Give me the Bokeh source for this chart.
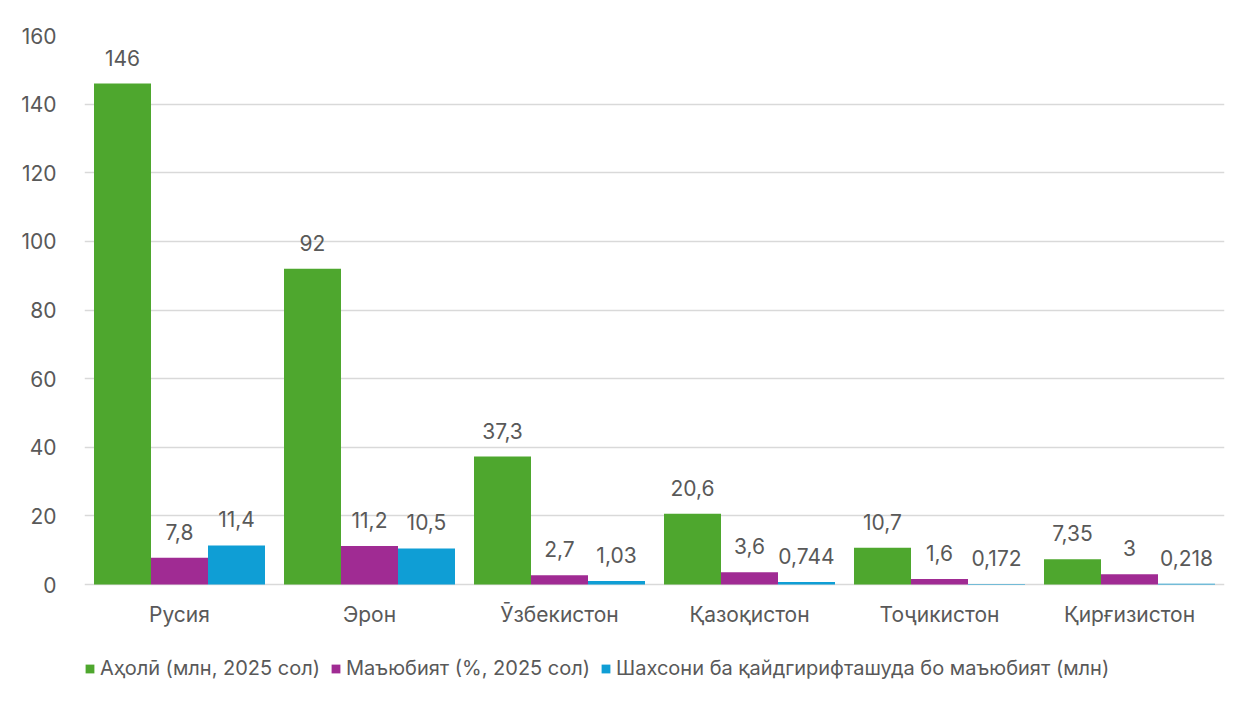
from bokeh.plotting import figure
from bokeh.models import ColumnDataSource, FactorRange, LabelSet, Legend, LegendItem, Range1d
from bokeh.core.properties import value
from bokeh.transform import dodge
from bokeh.embed import file_html
from bokeh.resources import INLINE

countries = ["Русия", "Эрон", "Ӯзбекистон", "Қазоқистон", "Тоҷикистон", "Қирғизистон"]
population = [146, 92, 37.3, 20.6, 10.7, 7.35]
disability_pct = [7.8, 11.2, 2.7, 3.6, 1.6, 3]
disabled_mln = [11.4, 10.5, 1.03, 0.744, 0.172, 0.218]
series_names = ["Аҳолӣ (млн, 2025 сол)", "Маъюбият (%, 2025 сол)",
                "Шахсони ба қайдгирифташуда бо маъюбият (млн)"]
colors = ["#4EA72E", "#A02B93", "#0F9ED5"]
y_ticks = [0, 20, 40, 60, 80, 100, 120, 140, 160]

def fmt(v):
    return ("%g" % v).replace(".", ",")

src = ColumnDataSource(dict(
    x=countries,
    a=population, b=disability_pct, c=disabled_mln,
    la=[fmt(v) for v in population],
    lb=[fmt(v) for v in disability_pct],
    lc=[fmt(v) for v in disabled_mln],
    zero=[0] * len(countries),
))

FONT = "Inter"
TXT = "#595959"
FS = "21px"

# plotting area 549 px tall for 0..160, plus 109 px below the baseline for category names and legend
Y_MAX = 160
Y_MIN = -Y_MAX * 109 / 549

p = figure(x_range=FactorRange(factors=countries, range_padding=0),
           y_range=Range1d(Y_MIN, Y_MAX),
           frame_width=1140, frame_height=658,
           output_backend="svg", toolbar_location=None,
           min_border_left=84, min_border_right=26, min_border_top=35, min_border_bottom=0,
           border_fill_color="white")
p.outline_line_color = None

renderers = []
for key, off, col in [("a", -0.3, colors[0]), ("b", 0.0, colors[1]), ("c", 0.3, colors[2])]:
    r = p.vbar(x=dodge("x", off, range=p.x_range), top=key, width=0.3, source=src,
               fill_color=col, line_color=None)
    renderers.append(r)
    lab = LabelSet(x=dodge("x", off, range=p.x_range), y=key, text="l" + key, source=src,
                   text_align="center", text_baseline="alphabetic", y_offset=18,
                   text_font=value(FONT), text_font_size=FS, text_color=TXT)
    p.add_layout(lab)

# category names under the baseline
cat_labels = LabelSet(x="x", y="zero", text="x", source=src, text_align="center",
                      text_baseline="middle", y_offset=-30,
                      text_font=value(FONT), text_font_size=FS, text_color=TXT)
p.add_layout(cat_labels)

p.xaxis.visible = False

p.yaxis.ticker = y_ticks
p.yaxis.axis_line_color = None
p.yaxis.major_tick_line_color = None
p.yaxis.minor_tick_line_color = None
p.yaxis.major_label_text_font = FONT
p.yaxis.major_label_text_font_size = FS
p.yaxis.major_label_text_color = TXT
p.yaxis.major_label_standoff = 22

p.xgrid.grid_line_color = None
p.ygrid.grid_line_color = "#d9d9d9"
p.ygrid.grid_line_width = 1.5

legend = Legend(items=[LegendItem(label=n, renderers=[r]) for n, r in zip(series_names, renderers)],
                orientation="horizontal", location=(0, 13),
                label_text_font=FONT, label_text_font_size="20px", label_text_color=TXT,
                glyph_width=11, glyph_height=11, label_standoff=5, spacing=10,
                border_line_color=None, background_fill_alpha=0, padding=0, margin=0)
p.add_layout(legend)

open("out.html", "w").write(file_html(p, INLINE))
